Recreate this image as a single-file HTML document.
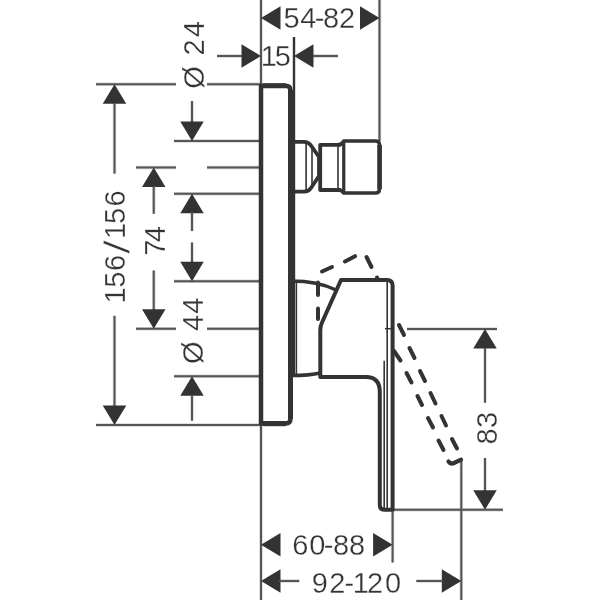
<!DOCTYPE html>
<html><head><meta charset="utf-8"><style>
html,body{margin:0;padding:0;background:#fff;width:600px;height:600px;overflow:hidden}
svg{display:block}
text{font-family:"Liberation Sans",sans-serif;fill:#333;stroke:#fff;stroke-width:0.3px}
svg{will-change:transform}
</style></head><body>
<svg width="600" height="600" viewBox="0 0 600 600" stroke="#333" fill="none">
<rect width="600" height="600" fill="#fff" stroke="none"/>
<g>
<line x1="416.3" y1="581" x2="443" y2="581" stroke-width="3.4" stroke="#d4d4d4"/>
<line x1="279" y1="581" x2="299.3" y2="581" stroke-width="3.4" stroke="#d4d4d4"/>
<line x1="485" y1="458" x2="485" y2="491" stroke-width="3.4" stroke="#d4d4d4"/>
<line x1="485" y1="348" x2="485" y2="402.7" stroke-width="3.4" stroke="#d4d4d4"/>
<line x1="192" y1="395" x2="192" y2="420.75" stroke-width="3.4" stroke="#d4d4d4"/>
<line x1="192" y1="242.5" x2="192" y2="262" stroke-width="3.4" stroke="#d4d4d4"/>
<line x1="192" y1="212" x2="192" y2="231" stroke-width="3.4" stroke="#d4d4d4"/>
<line x1="192" y1="101" x2="192" y2="122" stroke-width="3.4" stroke="#d4d4d4"/>
<line x1="153.75" y1="270.5" x2="153.75" y2="310" stroke-width="3.4" stroke="#d4d4d4"/>
<line x1="153.75" y1="186" x2="153.75" y2="213.8" stroke-width="3.4" stroke="#d4d4d4"/>
<line x1="114.5" y1="315.8" x2="114.5" y2="406" stroke-width="3.4" stroke="#d4d4d4"/>
<line x1="114.5" y1="103" x2="114.5" y2="173.6" stroke-width="3.4" stroke="#d4d4d4"/>
<line x1="313" y1="56" x2="338" y2="56" stroke-width="3.4" stroke="#d4d4d4"/>
<line x1="217" y1="56" x2="242" y2="56" stroke-width="3.4" stroke="#d4d4d4"/>
<line x1="393" y1="509.7" x2="503" y2="509.7" stroke-width="3.4" stroke="#d4d4d4"/>
<line x1="407" y1="329" x2="497" y2="329" stroke-width="3.4" stroke="#d4d4d4"/>
<line x1="96" y1="425" x2="261" y2="425" stroke-width="3.4" stroke="#d4d4d4"/>
<line x1="174" y1="376.25" x2="261" y2="376.25" stroke-width="3.4" stroke="#d4d4d4"/>
<line x1="207" y1="328.75" x2="261" y2="328.75" stroke-width="3.4" stroke="#d4d4d4"/>
<line x1="136" y1="328.75" x2="176" y2="328.75" stroke-width="3.4" stroke="#d4d4d4"/>
<line x1="174" y1="281.25" x2="261" y2="281.25" stroke-width="3.4" stroke="#d4d4d4"/>
<line x1="174" y1="193.75" x2="261" y2="193.75" stroke-width="3.4" stroke="#d4d4d4"/>
<line x1="207" y1="167.5" x2="261" y2="167.5" stroke-width="3.4" stroke="#d4d4d4"/>
<line x1="136" y1="167.5" x2="176" y2="167.5" stroke-width="3.4" stroke="#d4d4d4"/>
<line x1="174" y1="141" x2="261" y2="141" stroke-width="3.4" stroke="#d4d4d4"/>
<line x1="207" y1="84.25" x2="261" y2="84.25" stroke-width="3.4" stroke="#d4d4d4"/>
<line x1="96" y1="84.25" x2="176" y2="84.25" stroke-width="3.4" stroke="#d4d4d4"/>
<line x1="461.3" y1="460" x2="461.3" y2="600" stroke-width="3.4" stroke="#d4d4d4"/>
<line x1="392.6" y1="510" x2="392.6" y2="562.5" stroke-width="3.4" stroke="#d4d4d4"/>
<line x1="379.5" y1="0" x2="379.5" y2="141" stroke-width="3.4" stroke="#d4d4d4"/>
<line x1="261" y1="0" x2="261" y2="600" stroke-width="3.4" stroke="#d4d4d4"/>
<line x1="261" y1="0" x2="261" y2="600" stroke-width="2" stroke="#555"/>
<line x1="294" y1="37" x2="294" y2="375" stroke-width="2.4" stroke-linecap="butt"/>
<line x1="379.5" y1="0" x2="379.5" y2="141" stroke-width="2" stroke="#555"/>
<line x1="392.6" y1="510" x2="392.6" y2="562.5" stroke-width="2" stroke="#555"/>
<line x1="461.3" y1="460" x2="461.3" y2="600" stroke-width="2" stroke="#555"/>
<line x1="96" y1="84.25" x2="176" y2="84.25" stroke-width="2" stroke="#555"/>
<line x1="207" y1="84.25" x2="261" y2="84.25" stroke-width="2" stroke="#555"/>
<line x1="174" y1="141" x2="261" y2="141" stroke-width="2" stroke="#555"/>
<line x1="136" y1="167.5" x2="176" y2="167.5" stroke-width="2" stroke="#555"/>
<line x1="207" y1="167.5" x2="261" y2="167.5" stroke-width="2" stroke="#555"/>
<line x1="174" y1="193.75" x2="261" y2="193.75" stroke-width="2" stroke="#555"/>
<line x1="174" y1="281.25" x2="261" y2="281.25" stroke-width="2" stroke="#555"/>
<line x1="136" y1="328.75" x2="176" y2="328.75" stroke-width="2" stroke="#555"/>
<line x1="207" y1="328.75" x2="261" y2="328.75" stroke-width="2" stroke="#555"/>
<line x1="174" y1="376.25" x2="261" y2="376.25" stroke-width="2" stroke="#555"/>
<line x1="96" y1="425" x2="261" y2="425" stroke-width="2" stroke="#555"/>
<line x1="407" y1="329" x2="497" y2="329" stroke-width="2" stroke="#555"/>
<line x1="385" y1="328.7" x2="392" y2="328.7" stroke-width="1.5" stroke-linecap="butt"/>
<line x1="393" y1="509.7" x2="503" y2="509.7" stroke-width="2" stroke="#555"/>
<polygon points="261,18 280.5,6.25 280.5,29.75" fill="#333" stroke="none"/>
<polygon points="379.5,18 360.0,6.25 360.0,29.75" fill="#333" stroke="none"/>
<polygon points="261,56 241.5,44.25 241.5,67.75" fill="#333" stroke="none"/>
<line x1="217" y1="56" x2="242" y2="56" stroke-width="2" stroke="#555"/>
<polygon points="294,56 313.5,44.25 313.5,67.75" fill="#333" stroke="none"/>
<line x1="313" y1="56" x2="338" y2="56" stroke-width="2" stroke="#555"/>
<polygon points="114.5,84.25 102.75,103.75 126.25,103.75" fill="#333" stroke="none"/>
<line x1="114.5" y1="103" x2="114.5" y2="173.6" stroke-width="2" stroke="#555"/>
<line x1="114.5" y1="315.8" x2="114.5" y2="406" stroke-width="2" stroke="#555"/>
<polygon points="114.5,425 102.75,405.5 126.25,405.5" fill="#333" stroke="none"/>
<polygon points="153.75,167.5 142.0,187.0 165.5,187.0" fill="#333" stroke="none"/>
<line x1="153.75" y1="186" x2="153.75" y2="213.8" stroke-width="2" stroke="#555"/>
<line x1="153.75" y1="270.5" x2="153.75" y2="310" stroke-width="2" stroke="#555"/>
<polygon points="153.75,328.75 142.0,309.25 165.5,309.25" fill="#333" stroke="none"/>
<line x1="192" y1="101" x2="192" y2="122" stroke-width="2" stroke="#555"/>
<polygon points="192,141 180.25,121.5 203.75,121.5" fill="#333" stroke="none"/>
<polygon points="192,193.75 180.25,213.25 203.75,213.25" fill="#333" stroke="none"/>
<line x1="192" y1="212" x2="192" y2="231" stroke-width="2" stroke="#555"/>
<line x1="192" y1="242.5" x2="192" y2="262" stroke-width="2" stroke="#555"/>
<polygon points="192,281.25 180.25,261.75 203.75,261.75" fill="#333" stroke="none"/>
<polygon points="192,376.25 180.25,395.75 203.75,395.75" fill="#333" stroke="none"/>
<line x1="192" y1="395" x2="192" y2="420.75" stroke-width="2" stroke="#555"/>
<polygon points="485,329 473.25,348.5 496.75,348.5" fill="#333" stroke="none"/>
<line x1="485" y1="348" x2="485" y2="402.7" stroke-width="2" stroke="#555"/>
<line x1="485" y1="458" x2="485" y2="491" stroke-width="2" stroke="#555"/>
<polygon points="485,509.7 473.25,490.2 496.75,490.2" fill="#333" stroke="none"/>
<polygon points="261,544.7 280.5,532.95 280.5,556.45" fill="#333" stroke="none"/>
<polygon points="392.6,544.7 373.1,532.95 373.1,556.45" fill="#333" stroke="none"/>
<polygon points="261,581 280.5,569.25 280.5,592.75" fill="#333" stroke="none"/>
<line x1="279" y1="581" x2="299.3" y2="581" stroke-width="2" stroke="#555"/>
<polygon points="461.3,581 441.8,569.25 441.8,592.75" fill="#333" stroke="none"/>
<line x1="416.3" y1="581" x2="443" y2="581" stroke-width="2" stroke="#555"/>
<path d="M261,85.75 H285.5 Q290.5,85.75 290.5,90.5 V418.5 Q290.5,423.5 285.5,423.5 H261 Z" stroke-width="4.5" fill="none" stroke-linejoin="round" stroke-linecap="round"/>
<line x1="290.5" y1="90" x2="290.5" y2="419" stroke-width="5" stroke-linecap="butt"/>
<line x1="263" y1="85.75" x2="286" y2="85.75" stroke-width="5" stroke-linecap="butt"/>
<line x1="263" y1="423.6" x2="286" y2="423.6" stroke-width="5.2" stroke-linecap="butt"/>
<path d="M291,141.8 H304 Q308.5,141.8 311,145.5 L319,157 V176 L311,188 Q308.5,191.7 304,191.7 H291" stroke-width="3.8" fill="none" stroke-linejoin="round" stroke-linecap="round"/>
<line x1="306.1" y1="143" x2="306.1" y2="190.5" stroke-width="1.6" stroke-linecap="butt"/>
<line x1="312" y1="146.5" x2="312" y2="186.5" stroke-width="1.6" stroke-linecap="butt"/>
<path d="M340,144.8 H320.2 V190 H340" stroke-width="3.8" fill="none" stroke-linejoin="round" stroke-linecap="round"/>
<line x1="338" y1="145" x2="338" y2="190" stroke-width="1.6" stroke-linecap="butt"/>
<path d="M338,144.8 Q342,144.8 343.75,141 H375.5 Q379.5,141 379.5,145 V189 Q379.5,193 375.5,193 H343.75 Q342,190 338,190" stroke-width="3.6" fill="none" stroke-linejoin="round" stroke-linecap="round"/>
<line x1="343.75" y1="142" x2="343.75" y2="192" stroke-width="3.2" stroke-linecap="butt"/>
<line x1="379.6" y1="145" x2="379.6" y2="189" stroke-width="4.6" stroke-linecap="butt"/>
<path d="M291,281 Q318,281 336,290" stroke-width="3.6" fill="none" stroke-linejoin="round" stroke-linecap="round"/>
<path d="M291,375.5 Q310,375.5 320.3,373" stroke-width="3.6" fill="none" stroke-linejoin="round" stroke-linecap="round"/>
<line x1="296.4" y1="281" x2="296.4" y2="375" stroke-width="1.5" stroke-linecap="butt"/>
<path d="M320.3,377 V330 Q320.3,326 322,322.5 L341,280 H387 Q392.6,280 392.6,285.5 V509.8 H384.5 Q379.8,509.8 379.8,505 V392 C379.8,382 375.5,377 366,377 Z" stroke-width="4" fill="none" stroke-linejoin="round" stroke-linecap="round"/>
<line x1="387.2" y1="282" x2="387.2" y2="510" stroke-width="1.6" stroke-linecap="butt"/>
<line x1="384.2" y1="360.7" x2="384.2" y2="510" stroke-width="1.6" stroke-linecap="butt"/>
<line x1="318" y1="282.5" x2="318" y2="295" stroke-width="4" stroke-linecap="round"/>
<line x1="318" y1="308.5" x2="318" y2="319" stroke-width="4" stroke-linecap="round"/>
<line x1="322" y1="271.5" x2="332" y2="267" stroke-width="4" stroke-linecap="round"/>
<line x1="345" y1="261.5" x2="355" y2="256.2" stroke-width="4" stroke-linecap="round"/>
<line x1="366.5" y1="257" x2="371.5" y2="267" stroke-width="4" stroke-linecap="round"/>
<line x1="377" y1="277.5" x2="377.5" y2="278.5" stroke-width="4" stroke-linecap="round"/>
<line x1="399" y1="325" x2="404" y2="335" stroke-width="4" stroke-linecap="round"/>
<line x1="409.5" y1="348" x2="414.5" y2="358" stroke-width="4" stroke-linecap="round"/>
<line x1="420" y1="371" x2="425" y2="381" stroke-width="4" stroke-linecap="round"/>
<line x1="430.5" y1="393" x2="435.5" y2="403.5" stroke-width="4" stroke-linecap="round"/>
<line x1="441.5" y1="416" x2="446" y2="425.5" stroke-width="4" stroke-linecap="round"/>
<line x1="452" y1="439" x2="457" y2="448.5" stroke-width="4" stroke-linecap="round"/>
<line x1="394" y1="351" x2="400.5" y2="360.5" stroke-width="4" stroke-linecap="round"/>
<line x1="406.5" y1="373" x2="411.5" y2="382.5" stroke-width="4" stroke-linecap="round"/>
<line x1="417.5" y1="396" x2="422" y2="405" stroke-width="4" stroke-linecap="round"/>
<line x1="428" y1="418" x2="433" y2="427.5" stroke-width="4" stroke-linecap="round"/>
<line x1="438.5" y1="440.5" x2="443.5" y2="450" stroke-width="4" stroke-linecap="round"/>
<path d="M448.5,461.5 Q450.5,464.5 454,463 L461,459.7" stroke-width="4.2" fill="none" stroke-linejoin="round" stroke-linecap="round"/>
<text x="283.61 300.33 314.87 322.94 338.94" y="28.2" font-size="29">54-82</text>
<text x="260.83 274.76" y="66.3" font-size="29">15</text>
<text x="292.19 309.29 323.82 332.94 348.94" y="555.3" font-size="29">60-88</text>
<text x="311.74 329.24 344.45 352.63 366.94 385.09" y="592.5" font-size="29">92-120</text>
<text transform="translate(203.7,600) rotate(-90)" x="511.36 520.0600000000001 544.59 562.73" y="0" font-size="29">&#216; 24</text>
<text transform="translate(125.3,600) rotate(-90)" x="296.63 312.16 329.04 346.56 360.93 375.96 393.59" y="0" font-size="29">156<tspan font-size="36.7" rotate="6" dy="3.8">/</tspan><tspan dy="-3.8">156</tspan></text>
<text transform="translate(165.3,600) rotate(-90)" x="344.22 357.88" y="0" font-size="29">74</text>
<text transform="translate(203.3,600) rotate(-90)" x="236.06 244.76 269.03 286.33" y="0" font-size="29">&#216; 44</text>
<text transform="translate(496.7,600) rotate(-90)" x="155.44 172.02" y="0" font-size="29">83</text>
</g>
</svg>
</body></html>
